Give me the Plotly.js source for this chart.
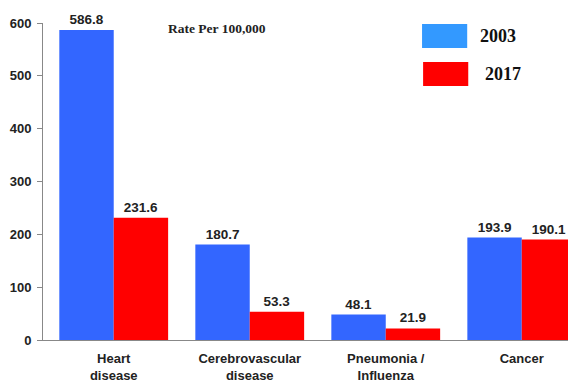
<!DOCTYPE html>
<html>
<head>
<meta charset="utf-8">
<script src="https://cdn.plot.ly/plotly-3.0.1.min.js"></script>
<style>html,body{margin:0;padding:0;background:#fff;}#chart{width:568px;height:385px;}</style>
</head>
<body>
<div id="chart"></div>
<script>
var categories = ["Heart<br>disease", "Cerebrovascular<br>disease", "Pneumonia /<br>Influenza", "Cancer"];
var values2003 = [586.8, 180.7, 48.1, 193.9];
var values2017 = [231.6, 53.3, 21.9, 190.1];
var seriesNames = ["2003", "2017"];
var yTicks = [0, 100, 200, 300, 400, 500, 600];

var labelFont = {family: "Liberation Sans, Arial, sans-serif", size: 13, color: "#222", weight: "bold"};
var barTextFont = {family: "Liberation Sans, Arial, sans-serif", size: 13.5, color: "#222", weight: "bold"};

var traces = [
  {type: "bar", name: seriesNames[0], x: categories, y: values2003,
   marker: {color: "#3366FF"}, text: values2003.map(function(v){return v.toFixed(1);}),
   textposition: "outside", textfont: barTextFont, cliponaxis: false, hoverinfo: "none"},
  {type: "bar", name: seriesNames[1], x: categories, y: values2017,
   marker: {color: "#FF0000"}, text: values2017.map(function(v){return v.toFixed(1);}),
   textposition: "outside", textfont: barTextFont, cliponaxis: false, hoverinfo: "none"}
];

var layout = {
  width: 568, height: 385,
  margin: {l: 43, r: 0, t: 23, b: 45},
  paper_bgcolor: "#fff", plot_bgcolor: "#fff",
  showlegend: false,
  barmode: "group", bargap: 0.2, bargroupgap: 0,
  xaxis: {range: [-0.52, 3.34], showgrid: false, zeroline: false, showline: true,
          linecolor: "#888", linewidth: 1, ticks: "", tickfont: labelFont,
          ticklabelstandoff: 6, fixedrange: true},
  yaxis: {range: [0, 600], tickvals: yTicks, showgrid: false, zeroline: false, showline: true,
          linecolor: "#888", linewidth: 1, ticks: "outside", ticklen: 5, tickcolor: "#888",
          tickfont: labelFont, ticklabelstandoff: 3, fixedrange: true},
  shapes: [
    {type: "rect", xref: "paper", yref: "paper", x0: 0.722, x1: 0.808, y0: 0.921, y1: 0.997,
     fillcolor: "#3399FF", line: {width: 0}},
    {type: "rect", xref: "paper", yref: "paper", x0: 0.724, x1: 0.810, y0: 0.801, y1: 0.877,
     fillcolor: "#FF0000", line: {width: 0}}
  ],
  annotations: [
    {xref: "paper", yref: "paper", x: 0.829, y: 0.959, xanchor: "left", yanchor: "middle",
     text: "<b>" + seriesNames[0] + "</b>", showarrow: false,
     font: {family: "Liberation Serif, Times New Roman, serif", size: 18, color: "#111"}},
    {xref: "paper", yref: "paper", x: 0.838, y: 0.839, xanchor: "left", yanchor: "middle",
     text: "<b>" + seriesNames[1] + "</b>", showarrow: false,
     font: {family: "Liberation Serif, Times New Roman, serif", size: 18, color: "#111"}},
    {xref: "paper", yref: "paper", x: 0.234, y: 0.984, xanchor: "left", yanchor: "middle",
     text: "<b>Rate Per 100,000</b>", showarrow: false,
     font: {family: "Liberation Serif, Times New Roman, serif", size: 13.5, color: "#222"}}
  ]
};

Plotly.newPlot("chart", traces, layout, {displayModeBar: false, staticPlot: true});
</script>
</body>
</html>
